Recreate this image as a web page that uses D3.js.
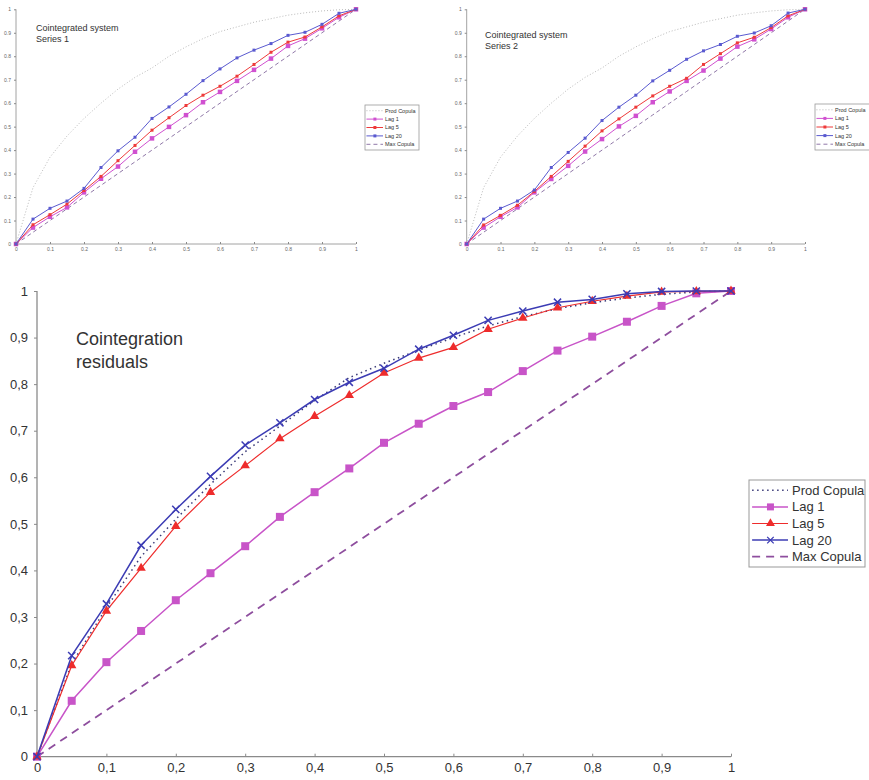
<!DOCTYPE html>
<meta charset="utf-8">
<style>
  body { margin: 0; background: #fff; }
  svg { display: block; font-family: "Liberation Sans", Arial, sans-serif; }
</style>
<script src="https://d3js.org/d3.v7.min.js"></script>
<body>
<div id="chart"></div>
<script>

// x grid shared by all panels
var xValues = [0, 0.05, 0.1, 0.15, 0.2, 0.25, 0.3, 0.35, 0.4, 0.45, 0.5, 0.55, 0.6, 0.65, 0.7, 0.75, 0.8, 0.85, 0.9, 0.95, 1];
var tickValues = [0, 0.1, 0.2, 0.3, 0.4, 0.5, 0.6, 0.7, 0.8, 0.9, 1];
var legendNames = ["Prod Copula", "Lag 1", "Lag 5", "Lag 20", "Max Copula"];

// Series 1 (top left)
var s1Prod  = [0, 0.24, 0.37, 0.46, 0.535, 0.60, 0.66, 0.71, 0.75, 0.80, 0.84, 0.875, 0.905, 0.925, 0.945, 0.96, 0.975, 0.985, 0.993, 0.998, 1];
var s1Lag1  = [0, 0.070, 0.116, 0.156, 0.220, 0.278, 0.330, 0.393, 0.450, 0.499, 0.549, 0.604, 0.648, 0.695, 0.742, 0.790, 0.844, 0.875, 0.919, 0.966, 1];
var s1Lag5  = [0, 0.082, 0.125, 0.170, 0.228, 0.288, 0.355, 0.420, 0.485, 0.538, 0.590, 0.634, 0.672, 0.715, 0.765, 0.817, 0.860, 0.882, 0.925, 0.972, 1];
var s1Lag20 = [0, 0.106, 0.152, 0.183, 0.237, 0.326, 0.397, 0.455, 0.535, 0.584, 0.638, 0.696, 0.746, 0.793, 0.826, 0.854, 0.889, 0.902, 0.936, 0.983, 1];

// Series 2 (top right)
var s2Prod  = [0, 0.24, 0.37, 0.46, 0.535, 0.60, 0.66, 0.71, 0.75, 0.80, 0.84, 0.875, 0.905, 0.925, 0.945, 0.96, 0.975, 0.985, 0.993, 0.998, 1];
var s2Lag1  = [0, 0.070, 0.116, 0.156, 0.220, 0.277, 0.333, 0.394, 0.447, 0.501, 0.546, 0.604, 0.650, 0.695, 0.739, 0.790, 0.841, 0.872, 0.916, 0.966, 1];
var s2Lag5  = [0, 0.081, 0.122, 0.165, 0.224, 0.288, 0.352, 0.417, 0.482, 0.533, 0.583, 0.631, 0.672, 0.706, 0.765, 0.811, 0.857, 0.881, 0.922, 0.972, 1];
var s2Lag20 = [0, 0.106, 0.152, 0.183, 0.230, 0.326, 0.390, 0.451, 0.526, 0.583, 0.634, 0.695, 0.740, 0.787, 0.823, 0.850, 0.885, 0.899, 0.930, 0.984, 1];

// Cointegration residuals (bottom)
var rProd  = [0, 0.20, 0.32, 0.43, 0.51, 0.585, 0.655, 0.71, 0.765, 0.814, 0.845, 0.873, 0.90, 0.925, 0.945, 0.962, 0.975, 0.985, 0.993, 0.998, 1];
var rLag1  = [0, 0.120, 0.203, 0.270, 0.336, 0.394, 0.452, 0.515, 0.568, 0.619, 0.674, 0.715, 0.753, 0.783, 0.828, 0.872, 0.902, 0.934, 0.968, 0.995, 1];
var rLag5  = [0, 0.196, 0.313, 0.405, 0.495, 0.568, 0.625, 0.683, 0.731, 0.776, 0.824, 0.856, 0.879, 0.918, 0.942, 0.964, 0.978, 0.989, 0.998, 0.999, 1];
var rLag20 = [0, 0.217, 0.328, 0.454, 0.531, 0.602, 0.669, 0.717, 0.767, 0.804, 0.834, 0.875, 0.905, 0.937, 0.957, 0.976, 0.982, 0.994, 0.999, 1.0, 1];

// Max copula is the diagonal
var maxCopula = [0, 0.05, 0.1, 0.15, 0.2, 0.25, 0.3, 0.35, 0.4, 0.45, 0.5, 0.55, 0.6, 0.65, 0.7, 0.75, 0.8, 0.85, 0.9, 0.95, 1];

var svg = d3.select("#chart").append("svg")
    .attr("width", 869)
    .attr("height", 780);

var drawPanel = function(p) {
  var x = d3.scaleLinear().domain([0, 1]).range([p.x0, p.x1]);
  var y = d3.scaleLinear().domain([0, 1]).range([p.y0, p.y1]);
  var g = svg.append("g");
  var fmt = p.comma ? function(d) { return d3.format("")(d).replace(".", ","); } : d3.format("");

  // axes
  var ax = g.append("g")
      .attr("transform", "translate(0," + p.y0 + ")")
      .call(d3.axisBottom(x).tickValues(tickValues).tickSize(-p.tick).tickPadding(p.pad).tickFormat(fmt));
  var ay = g.append("g")
      .attr("transform", "translate(" + p.x0 + ",0)")
      .call(d3.axisLeft(y).tickValues(tickValues).tickSize(p.tick).tickPadding(p.pad).tickFormat(fmt));
  [ax, ay].forEach(function(a) {
    a.select(".domain").attr("stroke", "#8a8a8a").attr("stroke-width", p.big ? 1.3 : 0.8);
    a.selectAll(".tick line").attr("stroke", "#8a8a8a");
    a.selectAll("text").attr("fill", p.big ? "#333" : "#666").attr("font-size", p.fs).attr("font-family", "Liberation Sans, Arial, sans-serif");
  });
  ay.select(".domain").attr("d", "M0," + p.y0 + "V" + p.y1);
  ax.select(".domain").attr("d", "M" + p.x0 + ",0H" + p.x1);

  var line = d3.line().x(function(d, i) { return x(xValues[i]); }).y(function(d) { return y(d); });

  var series = [
    {vals: p.prod, color: p.cProd, w: p.big ? 1.5 : 0.8, dash: p.big ? "1.5,3.5" : "1,2"},
    {vals: p.lag1, color: p.c1, w: p.big ? 1.5 : 1, marker: "square"},
    {vals: p.lag5, color: p.c5, w: p.big ? 1.2 : 1, marker: p.big ? "triangle" : "square"},
    {vals: p.lag20, color: p.c20, w: p.big ? 1.5 : 1, marker: p.big ? "cross" : "square"},
    {vals: maxCopula, color: p.cMax, w: p.big ? 1.8 : 1, dash: p.big ? "8,6" : "4,3"}
  ];

  // draw diagonal and prod first, then lags
  [4, 0, 1, 2, 3].forEach(function(k) {
    var s = series[k];
    g.append("path")
      .datum(s.vals)
      .attr("fill", "none")
      .attr("stroke", s.color)
      .attr("stroke-width", s.w)
      .attr("stroke-dasharray", s.dash || null)
      .attr("d", line);
    if (s.marker) {
      var sz = p.big ? (k == 1 ? 8 : 8) : (k == 1 ? 4.5 : 3);
      var sym = s.marker == "square" ? d3.symbolSquare : s.marker == "triangle" ? d3.symbolTriangle : d3.symbolX;
      g.selectAll(null)
        .data(s.vals)
        .enter()
        .append("path")
          .attr("transform", function(d, i) { return "translate(" + x(xValues[i]) + "," + y(d) + ")"; })
          .attr("d", d3.symbol().type(sym).size(sz * sz * (s.marker == "triangle" ? 0.6 : s.marker == "cross" ? 0.55 : 1)))
          .attr("fill", s.marker == "cross" ? "none" : s.color)
          .attr("stroke", s.color)
          .attr("stroke-width", s.marker == "cross" ? 1.5 : 0);
    }
  });

  // title
  var t = g.append("text").attr("fill", "#333").attr("font-size", p.tfs);
  p.title.forEach(function(line, i) {
    t.append("tspan").attr("x", p.tx).attr("y", p.ty + i * p.tfs * 1.25).text(line);
  });

  // legend
  var lg = g.append("g").attr("transform", "translate(" + p.lx + "," + p.ly + ")");
  lg.append("rect")
    .attr("width", p.lw).attr("height", p.lh)
    .attr("fill", "#fff").attr("stroke", "#999").attr("stroke-width", p.big ? 1 : 0.8);
  var rowH = (p.lh - p.lpad * 2) / 5;
  series.forEach(function(s, i) {
    var cy = p.lpad + rowH * (i + 0.5);
    lg.append("line")
      .attr("x1", p.lsw * 0.08).attr("x2", p.lsw)
      .attr("y1", cy).attr("y2", cy)
      .attr("stroke", s.color).attr("stroke-width", s.w)
      .attr("stroke-dasharray", s.dash || null);
    if (s.marker) {
      var sz = p.big ? 7 : 3;
      var sym = s.marker == "square" ? d3.symbolSquare : s.marker == "triangle" ? d3.symbolTriangle : d3.symbolX;
      lg.append("path")
        .attr("transform", "translate(" + (p.lsw * 0.55) + "," + cy + ")")
        .attr("d", d3.symbol().type(sym).size(sz * sz * (s.marker == "triangle" ? 0.7 : s.marker == "cross" ? 0.6 : 1)))
        .attr("fill", s.marker == "cross" ? "none" : s.color)
        .attr("stroke", s.color)
        .attr("stroke-width", s.marker == "cross" ? 1.3 : 0);
    }
    lg.append("text")
      .attr("x", p.lsw + p.lgap).attr("y", cy)
      .attr("dy", "0.35em")
      .attr("font-size", p.lfs)
      .attr("fill", "#333")
      .text(legendNames[i]);
  });
};

var smallColors = {cProd: "#a8a8a8", c1: "#d050d0", c5: "#ee3a3a", c20: "#5a5ad0", cMax: "#9078a8"};

drawPanel(Object.assign({
  x0: 16, x1: 356, y0: 244, y1: 9.3, tick: 2, pad: 3, fs: 5, comma: false, big: false,
  prod: s1Prod, lag1: s1Lag1, lag5: s1Lag5, lag20: s1Lag20,
  title: ["Cointegrated system", "Series 1"], tx: 36, ty: 30.5, tfs: 9,
  lx: 365, ly: 105, lw: 54, lh: 45, lpad: 1.5, lsw: 18, lgap: 2, lfs: 5.5
}, smallColors));

drawPanel(Object.assign({
  x0: 466.7, x1: 805, y0: 244, y1: 9.3, tick: 2, pad: 3, fs: 5, comma: false, big: false,
  prod: s2Prod, lag1: s2Lag1, lag5: s2Lag5, lag20: s2Lag20,
  title: ["Cointegrated system", "Series 2"], tx: 485, ty: 38, tfs: 9,
  lx: 815, ly: 104, lw: 58, lh: 46, lpad: 1.5, lsw: 18, lgap: 2, lfs: 5.5
}, smallColors));

drawPanel({
  x0: 37, x1: 731, y0: 756.7, y1: 291, tick: 3, pad: 6, fs: 13, comma: true, big: true,
  prod: rProd, lag1: rLag1, lag5: rLag5, lag20: rLag20,
  cProd: "#3a3a78", c1: "#c854c8", c5: "#ee2c2c", c20: "#3c3cb4", cMax: "#8e4e9e",
  title: ["Cointegration", "residuals"], tx: 76, ty: 345, tfs: 18,
  lx: 749, ly: 480, lw: 116, lh: 87, lpad: 2, lsw: 39, lgap: 4, lfs: 13
});

</script>
</body>
